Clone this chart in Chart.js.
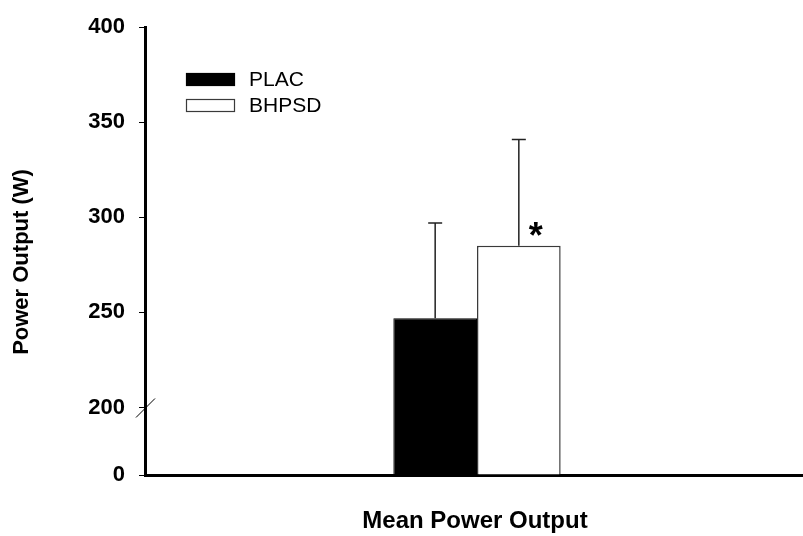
<!DOCTYPE html>
<html>
<head>
<meta charset="utf-8">
<script src="https://cdn.jsdelivr.net/npm/chart.js@4.4.0/dist/chart.umd.min.js"></script>
<style>
  html, body { margin: 0; padding: 0; background: #fff; overflow: hidden; }
  #wrap { width: 809px; height: 536px; position: relative; }
</style>
</head>
<body>
<div id="wrap"><canvas id="powerChart"></canvas></div>
<script>
// data
const categories = ['Mean Power Output'];
const seriesNames = ['PLAC', 'BHPSD'];
const placMean = [247];
const placSD = [50];
const bhpsdMean = [285];
const bhpsdSD = [56];
const significance = ['', '*'];
const tickLabels = [0, 200, 250, 300, 350, 400];

// broken axis: 0-200 squeezed into a short segment, 200-400 linear
const BREAK_AT = 200;
const LOW_SPAN = 35.5;
function toAxis(v) {
    if (v <= BREAK_AT) return v * LOW_SPAN / BREAK_AT;
    return LOW_SPAN + (v - BREAK_AT);
}

const errors = [placSD, bhpsdSD];
const means = [placMean, bhpsdMean];

const extras = {
    id: 'extras',
    afterDatasetsDraw(chart) {
        const ctx = chart.ctx;
        const y = chart.scales.y;
        ctx.save();

        // error bars (upper only) and significance mark
        chart.data.datasets.forEach((ds, di) => {
            const meta = chart.getDatasetMeta(di);
            meta.data.forEach((bar, i) => {
                const top = y.getPixelForValue(toAxis(means[di][i] + errors[di][i]));
                ctx.strokeStyle = '#222';
                ctx.lineWidth = 1.5;
                ctx.beginPath();
                ctx.moveTo(bar.x, bar.y);
                ctx.lineTo(bar.x, top);
                ctx.moveTo(bar.x - 7, top);
                ctx.lineTo(bar.x + 7, top);
                ctx.stroke();
                if (significance[di]) {
                    ctx.fillStyle = '#000';
                    ctx.font = 'bold 36px "Liberation Sans", Arial, sans-serif';
                    ctx.textAlign = 'center';
                    ctx.textBaseline = 'middle';
                    ctx.fillText(significance[di], bar.x + 17, bar.y - 8);
                }
            });
        });

        // axis break mark
        const area = chart.chartArea;
        const by = y.getPixelForValue(toAxis(BREAK_AT));
        ctx.strokeStyle = '#000';
        ctx.lineWidth = 1;
        ctx.beginPath();
        ctx.moveTo(area.left - 9, by + 10);
        ctx.lineTo(area.left + 10, by - 9);
        ctx.stroke();

        // legend
        ctx.font = '21px "Liberation Sans", Arial, sans-serif';
        ctx.textAlign = 'left';
        ctx.textBaseline = 'middle';
        chart.data.datasets.forEach((ds, di) => {
            const top = 73 + di * 26;
            ctx.fillStyle = ds.backgroundColor;
            ctx.fillRect(186, top, 49, 13);
            ctx.strokeStyle = ds.borderColor;
            ctx.lineWidth = 1.2;
            ctx.strokeRect(186.5, top + 0.5, 48, 12);
            ctx.fillStyle = '#000';
            ctx.fillText(ds.label, 249, top + 7);
        });

        // axis titles
        ctx.fillStyle = '#000';
        ctx.font = 'bold 22px "Liberation Sans", Arial, sans-serif';
        ctx.textAlign = 'center';
        ctx.save();
        ctx.translate(22, 262);
        ctx.rotate(-Math.PI / 2);
        ctx.fillText('Power Output (W)', 0, 0);
        ctx.restore();
        ctx.font = 'bold 24px "Liberation Sans", Arial, sans-serif';
        ctx.fillText('Mean Power Output', 475, 521);

        ctx.restore();
    }
};

const ctx = document.getElementById('powerChart').getContext('2d');
const chart = new Chart(ctx, {
    type: 'bar',
    data: {
        labels: categories,
        datasets: [{
            label: seriesNames[0],
            data: placMean.map(toAxis),
            backgroundColor: '#000000',
            borderColor: '#000000',
            borderWidth: 1
        }, {
            label: seriesNames[1],
            data: bhpsdMean.map(toAxis),
            backgroundColor: '#ffffff',
            borderColor: '#3a3a3a',
            borderWidth: 1.5
        }]
    },
    options: {
        responsive: true,
        maintainAspectRatio: false,
        animation: false,
        layout: { padding: { top: 22, right: 0, bottom: 0, left: 0 } },
        categoryPercentage: 0.252,
        barPercentage: 1,
        plugins: {
            legend: { display: false },
            tooltip: { enabled: false }
        },
        scales: {
            x: {
                grid: { display: false },
                border: { display: true, color: '#000', width: 3 },
                ticks: { display: false },
                afterFit(scale) { scale.height = 61; }
            },
            y: {
                min: 0,
                max: toAxis(400),
                afterBuildTicks(scale) {
                    scale.ticks = tickLabels.map(v => ({ value: toAxis(v) }));
                },
                ticks: {
                    autoSkip: false,
                    padding: 14,
                    color: '#000',
                    font: { family: '"Liberation Sans", Arial, sans-serif', size: 22, weight: 'bold' },
                    callback: (val, i) => tickLabels[i]
                },
                grid: {
                    drawOnChartArea: false,
                    drawTicks: true,
                    tickLength: 6,
                    color: '#000',
                    lineWidth: 1
                },
                border: { display: true, color: '#000', width: 3 },
                afterFit(scale) { scale.width = 145; }
            }
        }
    },
    plugins: [extras]
});
</script>
</body>
</html>
